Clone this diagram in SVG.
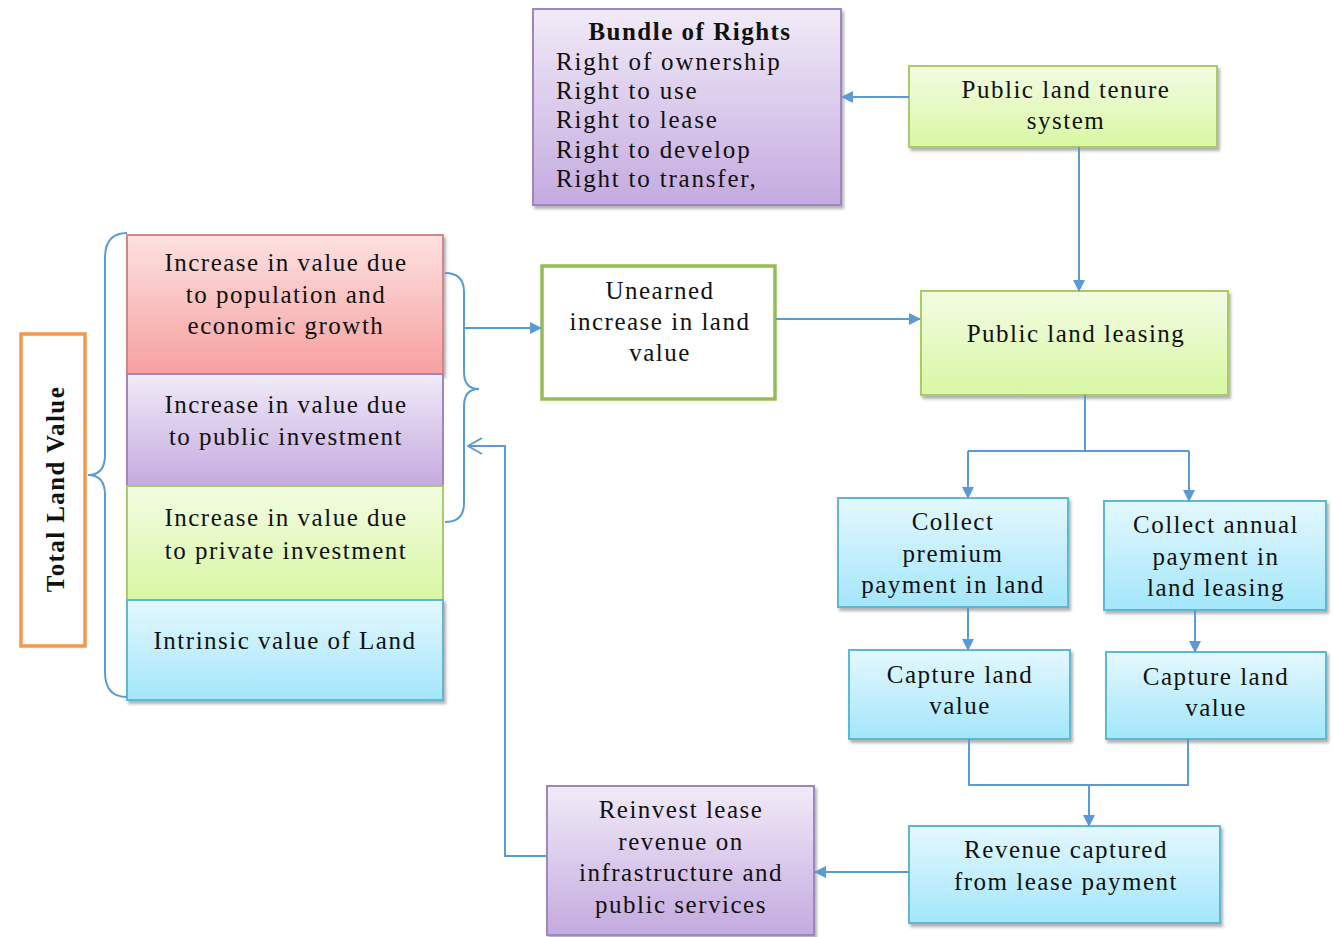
<svg xmlns="http://www.w3.org/2000/svg" width="1333" height="937" viewBox="0 0 1333 937">
<defs>
<linearGradient id="gPurple" x1="0" y1="0" x2="0" y2="1"><stop offset="0" stop-color="#f1ebf8"/><stop offset="1" stop-color="#c4aadf"/></linearGradient>
<linearGradient id="gGreen" x1="0" y1="0" x2="0" y2="1"><stop offset="0" stop-color="#f3fce4"/><stop offset="1" stop-color="#d8f7a2"/></linearGradient>
<linearGradient id="gBlue" x1="0" y1="0" x2="0" y2="1"><stop offset="0" stop-color="#e4f8fe"/><stop offset="1" stop-color="#a3e6fb"/></linearGradient>
<linearGradient id="gRed" x1="0" y1="0" x2="0" y2="1"><stop offset="0" stop-color="#fde1e1"/><stop offset="1" stop-color="#f6a09f"/></linearGradient>
<filter id="sh" x="-5%" y="-5%" width="115%" height="120%"><feDropShadow dx="2" dy="3" stdDeviation="1.5" flood-color="#000" flood-opacity="0.3"/></filter>
<marker id="ah" markerWidth="12" markerHeight="12" refX="11" refY="6" orient="auto" markerUnits="userSpaceOnUse"><path d="M0,0 L12,6 L0,12 Z" fill="#5b9bd5"/></marker>
<marker id="ao" markerWidth="16" markerHeight="18" refX="15" refY="9" orient="auto" markerUnits="userSpaceOnUse"><path d="M1,1 L15,9 L1,17" fill="none" stroke="#5b9bd5" stroke-width="2"/></marker>
</defs>
<style>
text{font-family:"Liberation Serif","Times New Roman",serif;font-size:25px;fill:#111;letter-spacing:1.5px}
.c{text-anchor:middle}
.b{font-weight:bold}
.purple{fill:url(#gPurple);stroke:#9f86c3;stroke-width:2}
.green{fill:url(#gGreen);stroke:#a8cc6c;stroke-width:2}
.blue{fill:url(#gBlue);stroke:#5fb7d6;stroke-width:2}
.red{fill:url(#gRed);stroke:#d58585;stroke-width:2}
.ln{fill:none;stroke:#5b9bd5;stroke-width:2}
.r{letter-spacing:1.8px}
</style>
<rect width="1333" height="937" fill="#fff"/>

<g id="bundle">
<rect class="purple" x="533" y="9" width="308" height="196" filter="url(#sh)"/>
<text class="c b" x="690" y="40">Bundle of Rights</text>
<text class="r" x="556" y="70">Right of ownership</text>
<text class="r" x="556" y="99">Right to use</text>
<text class="r" x="556" y="128">Right to lease</text>
<text class="r" x="556" y="158">Right to develop</text>
<text class="r" x="556" y="187">Right to transfer,</text>
</g>

<g id="tenure">
<rect class="green" x="909" y="66" width="308" height="81" filter="url(#sh)"/>
<text class="c" x="1066" y="98">Public land tenure</text>
<text class="c" x="1066" y="129">system</text>
</g>

<g id="leasing">
<rect class="green" x="921" y="291" width="307" height="104" filter="url(#sh)"/>
<text class="c" x="1076" y="342">Public land leasing</text>
</g>

<g id="unearned">
<rect x="542" y="266" width="233" height="133" fill="#fff" stroke="#94bd55" stroke-width="3.5"/>
<text class="c" x="660" y="299">Unearned</text>
<text class="c" x="660" y="330">increase in land</text>
<text class="c" x="660" y="361">value</text>
</g>

<g id="total">
<rect x="21" y="334" width="64" height="312" fill="#fff" stroke="#f79646" stroke-width="3.5"/>
<text class="c b" transform="translate(64,489) rotate(-90)" x="0" y="0" style="letter-spacing:1.4px">Total Land Value</text>
</g>

<g id="stack-red">
<rect class="red" x="127" y="235" width="316" height="139" filter="url(#sh)"/>
<text class="c" x="286" y="271">Increase in value due</text>
<text class="c" x="286" y="303">to population and</text>
<text class="c" x="286" y="334">economic growth</text>
</g>
<g id="stack-purple">
<rect class="purple" x="127" y="374" width="316" height="112"/>
<text class="c" x="286" y="413">Increase in value due</text>
<text class="c" x="286" y="445">to public investment</text>
</g>
<g id="stack-green">
<rect class="green" x="127" y="486" width="316" height="114"/>
<text class="c" x="286" y="526">Increase in value due</text>
<text class="c" x="286" y="559">to private investment</text>
</g>
<g id="stack-blue">
<rect class="blue" x="127" y="600" width="316" height="100" filter="url(#sh)"/>
<text class="c" x="285" y="649">Intrinsic value of Land</text>
</g>

<g id="collect-premium">
<rect class="blue" x="838" y="498" width="230" height="109" filter="url(#sh)"/>
<text class="c" x="953" y="530">Collect</text>
<text class="c" x="953" y="562">premium</text>
<text class="c" x="953" y="593">payment in land</text>
</g>
<g id="collect-annual">
<rect class="blue" x="1104" y="501" width="222" height="109" filter="url(#sh)"/>
<text class="c" x="1216" y="533">Collect annual</text>
<text class="c" x="1216" y="565">payment in</text>
<text class="c" x="1216" y="596">land leasing</text>
</g>
<g id="capture1">
<rect class="blue" x="849" y="650" width="221" height="89" filter="url(#sh)"/>
<text class="c" x="960" y="683">Capture land</text>
<text class="c" x="960" y="714">value</text>
</g>
<g id="capture2">
<rect class="blue" x="1106" y="652" width="220" height="87" filter="url(#sh)"/>
<text class="c" x="1216" y="685">Capture land</text>
<text class="c" x="1216" y="716">value</text>
</g>
<g id="revenue">
<rect class="blue" x="909" y="826" width="311" height="97" filter="url(#sh)"/>
<text class="c" x="1066" y="858">Revenue captured</text>
<text class="c" x="1066" y="890">from lease payment</text>
</g>
<g id="reinvest">
<rect class="purple" x="547" y="786" width="267" height="149" filter="url(#sh)"/>
<text class="c" x="681" y="818">Reinvest lease</text>
<text class="c" x="681" y="850">revenue on</text>
<text class="c" x="681" y="881">infrastructure and</text>
<text class="c" x="681" y="913">public services</text>
</g>

<g id="connectors">
<path class="ln" d="M127,233 Q105,233 105,258 L105,455 Q105,475 88,475 Q105,475 105,495 L105,672 Q105,697 127,697"/>
<path class="ln" d="M445,273 Q464,273 464,292 L464,372 Q464,389 479,389 Q464,389 464,406 L464,503 Q464,522 445,522"/>
<path class="ln" d="M464,328 L541,328" marker-end="url(#ah)"/>
<path class="ln" d="M909,97 L842,97" marker-end="url(#ah)"/>
<path class="ln" d="M1079,147 L1079,291" marker-end="url(#ah)"/>
<path class="ln" d="M776,319 L920,319" marker-end="url(#ah)"/>
<path class="ln" d="M1085,395 L1085,451 M968,451 L1189,451"/>
<path class="ln" d="M968,451 L968,498" marker-end="url(#ah)"/>
<path class="ln" d="M1189,451 L1189,501" marker-end="url(#ah)"/>
<path class="ln" d="M968,607 L968,650" marker-end="url(#ah)"/>
<path class="ln" d="M1195,610 L1195,652" marker-end="url(#ah)"/>
<path class="ln" d="M969,739 L969,785 L1188,785 L1188,739"/>
<path class="ln" d="M1089,785 L1089,826" marker-end="url(#ah)"/>
<path class="ln" d="M909,872 L815,872" marker-end="url(#ah)"/>
<path class="ln" d="M547,856 L505,856 L505,446 L468,446" marker-end="url(#ao)"/>
</g>
</svg>
